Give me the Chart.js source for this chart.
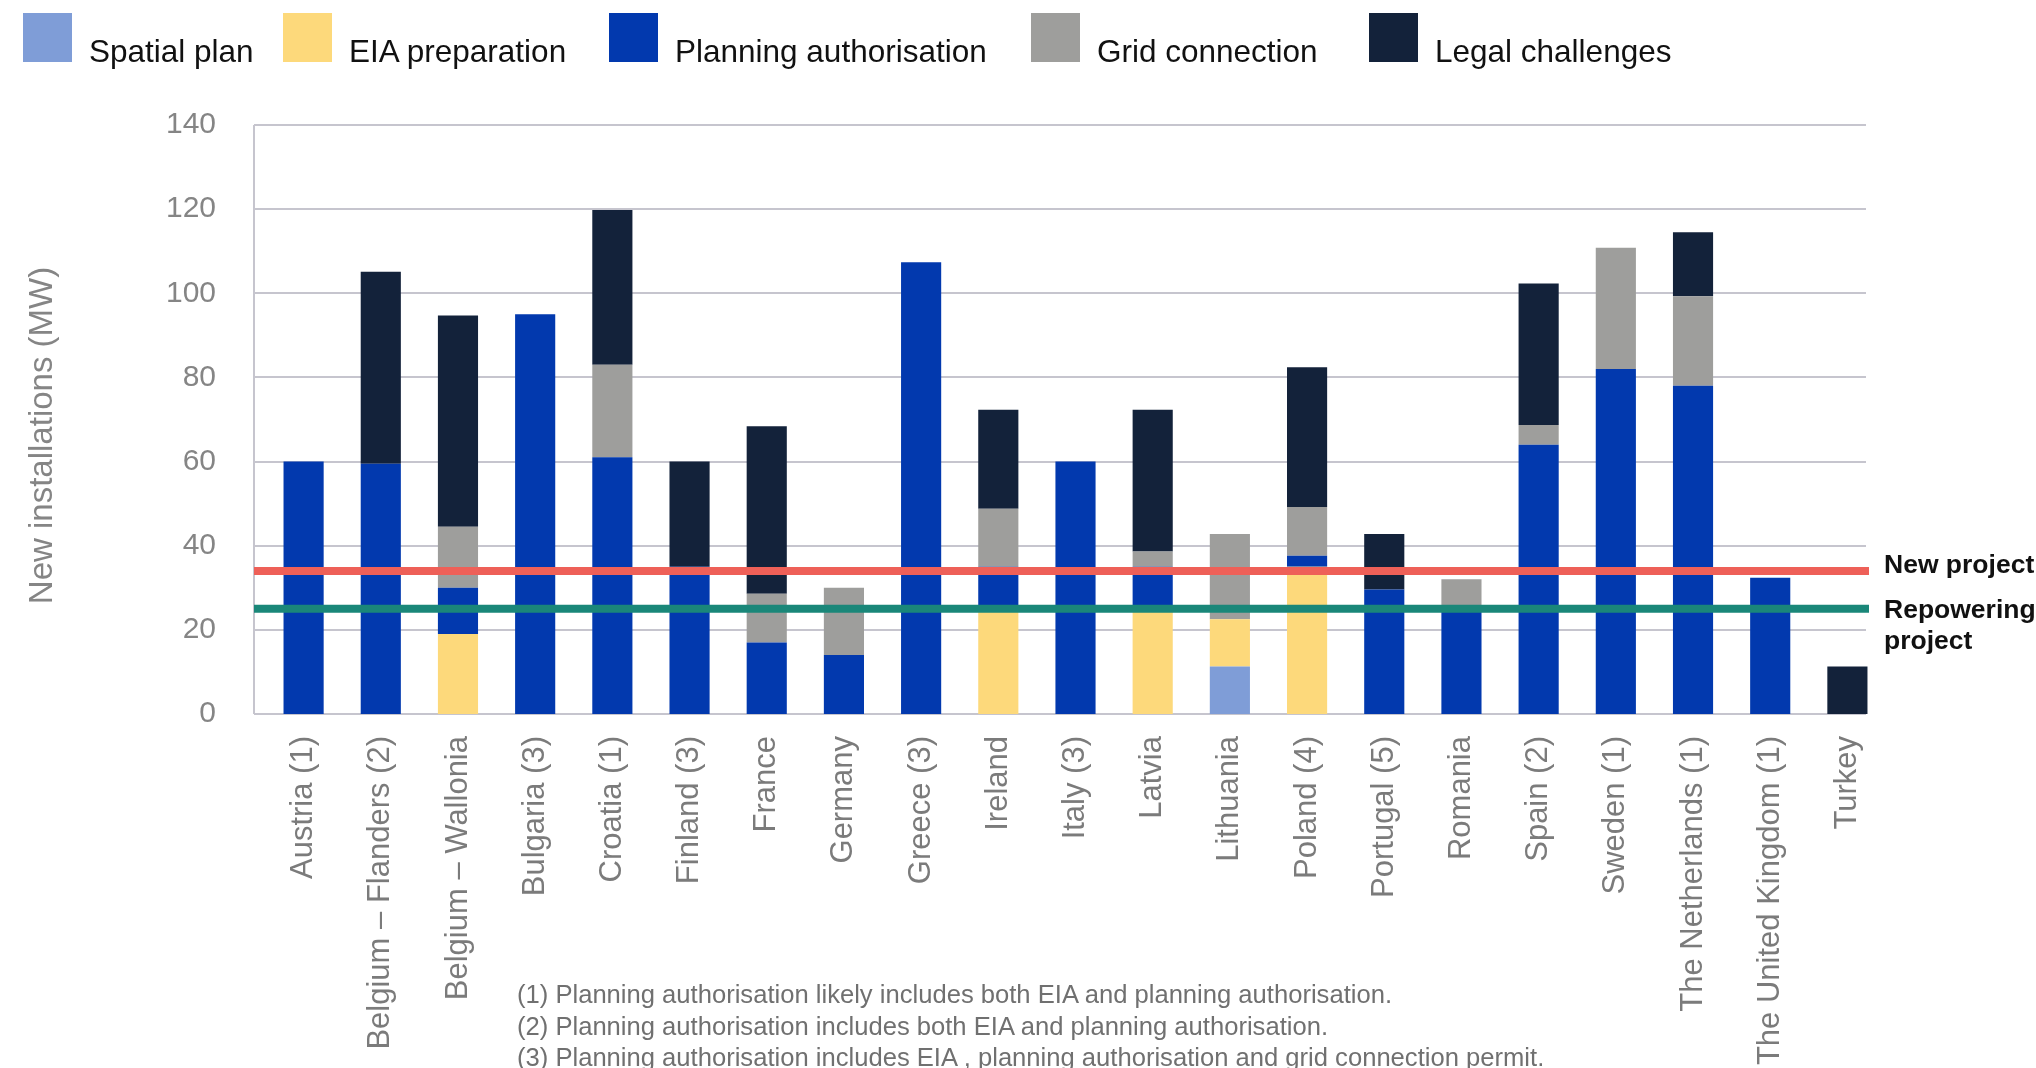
<!DOCTYPE html>
<html>
<head>
<meta charset="utf-8">
<script src="https://cdn.jsdelivr.net/npm/chart.js@4.4.1/dist/chart.umd.min.js"></script>
<style>
  html, body { margin: 0; padding: 0; background: #fff; }
  body { width: 2036px; height: 1068px; position: relative; overflow: hidden; font-family: 'Liberation Sans', Arial, sans-serif; }
  #chart { position: absolute; left: 0; top: 0; }
  #legend { position: absolute; left: 0; top: 13px; width: 2036px; height: 60px; }
  .item { position: absolute; top: 0; display: flex; align-items: baseline; font-size: 31.5px; color: #111; white-space: nowrap; }
  .swatch { width: 49px; height: 49px; margin-right: 17px; }
  #notes { position: absolute; left: 517px; top: 979px; font-size: 25.6px; line-height: 31.5px; color: #707070; white-space: nowrap; }
</style>
</head>
<body>
<canvas id="chart" width="2036" height="1068"></canvas>
<div id="legend"></div>
<div id="notes"></div>
<script>
// categories (x axis)
const countries = ['Austria (1)', 'Belgium – Flanders (2)', 'Belgium – Wallonia', 'Bulgaria (3)', 'Croatia (1)',
  'Finland (3)', 'France', 'Germany', 'Greece (3)', 'Ireland', 'Italy (3)', 'Latvia', 'Lithuania', 'Poland (4)',
  'Portugal (5)', 'Romania', 'Spain (2)', 'Sweden (1)', 'The Netherlands (1)', 'The United Kingdom (1)', 'Turkey'];

// stacked segments, in the order they sit from the bottom (MW)
const spatialPlan     = [0, 0, 0, 0, 0, 0, 0, 0, 0, 0, 0, 0, 11.3, 0, 0, 0, 0, 0, 0, 0, 0];
const eiaPreparation  = [0, 0, 19, 0, 0, 0, 0, 0, 0, 25, 0, 25, 11.2, 35, 0, 0, 0, 0, 0, 0, 0];
const planningAuth    = [60, 59.5, 11, 95, 61, 35, 17, 14, 107.4, 10, 60, 10, 0, 2.6, 29.6, 25, 64, 82, 78, 32.4, 0];
const gridConnection  = [0, 0, 14.5, 0, 22, 0, 11.6, 16, 0, 13.8, 0, 3.6, 20.3, 11.6, 0, 7, 4.7, 28.8, 21.3, 0, 0];
const legalChallenges = [0, 45.6, 50.2, 0, 36.8, 25, 39.8, 0, 0, 23.5, 0, 33.7, 0, 33.2, 13.2, 0, 33.6, 0, 15.2, 0, 11.3];

const seriesNames = ['Spatial plan', 'EIA preparation', 'Planning authorisation', 'Grid connection', 'Legal challenges'];
const seriesColors = ['#7f9dd7', '#fdd97b', '#0239ae', '#9e9e9c', '#13223a'];

// average lead-time reference lines
const refValues = [34, 25];
const refNames = [['New project'], ['Repowering', 'project']];
const refColors = ['#ee6058', '#1a8779'];

const yTitle = 'New installations (MW)';
const notes = [
  '(1) Planning authorisation likely includes both EIA and planning authorisation.',
  '(2) Planning authorisation includes both EIA and planning authorisation.',
  '(3) Planning authorisation includes EIA , planning authorisation and grid connection permit.'
];

const gridColor = '#c6c5ce';
const refLabelDy = [-5, 2];
const legendLeft = [23, 283, 609, 1031, 1369];

const frame = {
  id: 'frame',
  beforeDatasetsDraw(chart) {
    const { ctx, chartArea, scales: { y } } = chart;
    const x0 = chartArea.left - 11, x1 = chartArea.right - 20;
    ctx.save();
    ctx.strokeStyle = gridColor;
    ctx.lineWidth = 2;
    y.ticks.forEach(t => {
      const py = Math.round(y.getPixelForValue(t.value));
      ctx.beginPath(); ctx.moveTo(x0, py); ctx.lineTo(x1, py); ctx.stroke();
    });
    ctx.beginPath(); ctx.moveTo(x0, y.top); ctx.lineTo(x0, y.bottom); ctx.stroke();

    // axis title
    ctx.translate(43, (chartArea.top + chartArea.bottom) / 2 + 16);
    ctx.rotate(-Math.PI / 2);
    ctx.fillStyle = '#858585';
    ctx.font = '33px "Liberation Sans", Arial, sans-serif';
    ctx.textAlign = 'center';
    ctx.textBaseline = 'middle';
    ctx.fillText(yTitle, 0, 0);
    ctx.restore();
  },
  afterDatasetsDraw(chart) {
    const { ctx, chartArea, scales: { y } } = chart;
    ctx.save();
    refValues.forEach((v, i) => {
      const py = y.getPixelForValue(v);
      ctx.strokeStyle = refColors[i];
      ctx.lineWidth = 8;
      ctx.beginPath(); ctx.moveTo(chartArea.left - 11, py); ctx.lineTo(chartArea.right - 17, py); ctx.stroke();
      ctx.fillStyle = '#111';
      ctx.font = 'bold 26.5px "Liberation Sans", Arial, sans-serif';
      ctx.textBaseline = 'middle';
      refNames[i].forEach((line, k) => {
        ctx.fillText(line, chartArea.right - 2, py + refLabelDy[i] + k * 31);
      });
    });
    ctx.restore();
  }
};

const datasets = [spatialPlan, eiaPreparation, planningAuth, gridConnection, legalChallenges].map((d, i) => ({
  label: seriesNames[i],
  data: d,
  backgroundColor: seriesColors[i],
  borderWidth: 0,
  barPercentage: 0.52,
  categoryPercentage: 1
}));

const chart = new Chart(document.getElementById('chart').getContext('2d'), {
  type: 'bar',
  data: { labels: countries, datasets: datasets },
  options: {
    responsive: false,
    animation: false,
    layout: { padding: { top: 125, right: 150, left: 0, bottom: 0 } },
    plugins: { legend: { display: false }, tooltip: { enabled: false } },
    scales: {
      x: {
        stacked: true,
        grid: { display: false },
        border: { display: false },
        ticks: {
          autoSkip: false, minRotation: 90, maxRotation: 90, padding: 14,
          color: '#7b7b7b', font: { family: 'Liberation Sans', size: 31 }
        },
        afterFit: s => { s.height = 354; }
      },
      y: {
        stacked: true,
        min: 0, max: 140,
        grid: { display: false },
        border: { display: false },
        ticks: {
          stepSize: 20, padding: 41,
          color: '#858585', font: { family: 'Liberation Sans', size: 30 }
        },
        afterFit: s => { s.width = 265; }
      }
    }
  },
  plugins: [frame]
});

// HTML legend from the chart's datasets
const legend = document.getElementById('legend');
chart.data.datasets.forEach((ds, i) => {
  const item = document.createElement('div');
  item.className = 'item';
  item.style.left = legendLeft[i] + 'px';
  const sw = document.createElement('div');
  sw.className = 'swatch';
  sw.style.background = ds.backgroundColor;
  const tx = document.createElement('span');
  tx.textContent = ds.label;
  item.appendChild(sw);
  item.appendChild(tx);
  legend.appendChild(item);
});

document.getElementById('notes').innerHTML = notes.map(n => '<div>' + n + '</div>').join('');
</script>
</body>
</html>
